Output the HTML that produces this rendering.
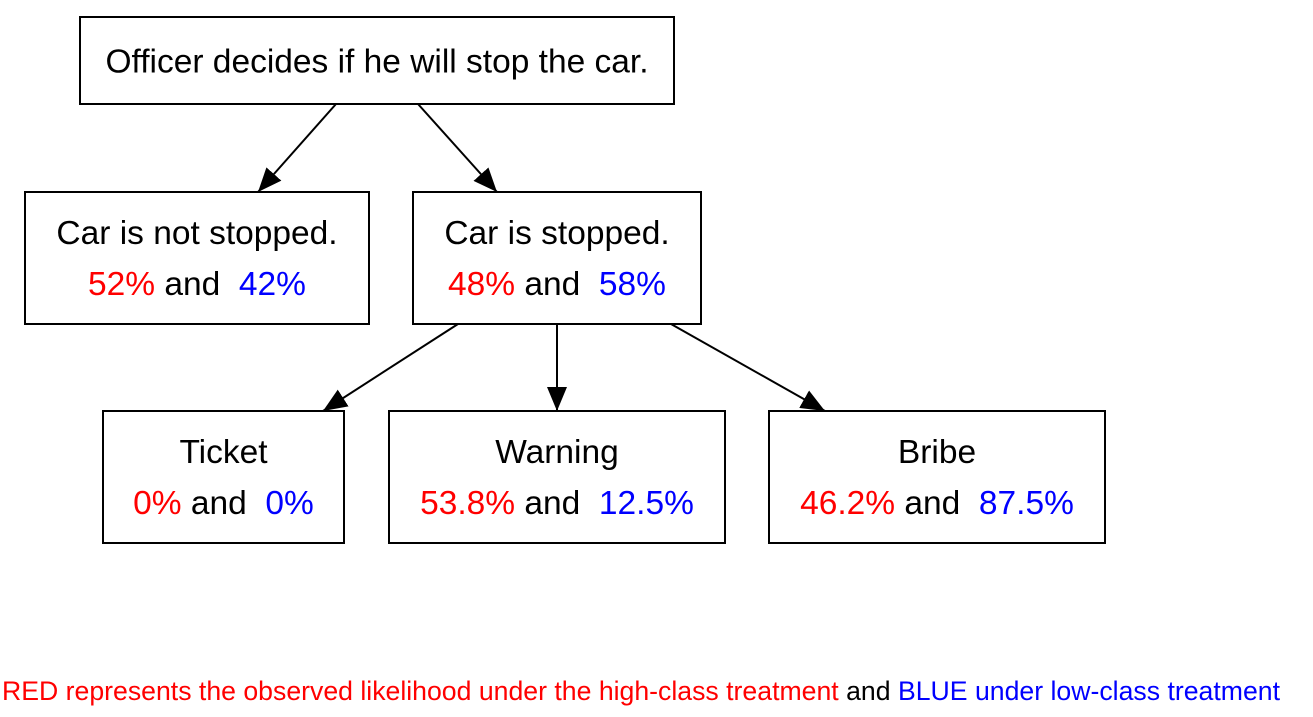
<!DOCTYPE html>
<html>
<head>
<meta charset="utf-8">
<style>
  html, body { margin: 0; padding: 0; background: #fff; }
  body { width: 1313px; height: 712px; overflow: hidden; }
  svg text { font-family: "Liberation Sans", Arial, sans-serif; }
</style>
</head>
<body>
<svg id="chart" width="1313" height="712" viewBox="0 0 1313 712" xmlns="http://www.w3.org/2000/svg">
  <defs>
    <marker id="arrow" markerWidth="24" markerHeight="20" refX="24" refY="10" orient="auto" markerUnits="userSpaceOnUse">
      <path d="M0,0 L24,10 L0,20 Z" fill="#000"/>
    </marker>
  </defs>
  <g id="edges"></g>
  <g id="nodes"></g>
  <text x="2" y="700" font-size="26.5" textLength="1278" lengthAdjust="spacingAndGlyphs"><tspan fill="#ff0000">RED represents the observed likelihood under the high-class treatment</tspan><tspan fill="#000"> and </tspan><tspan fill="#0000ff">BLUE under low-class treatment</tspan></text>
</svg>
<script>
const nodeNames = ["root", "not-stopped", "stopped", "ticket", "warning", "bribe"];
const nodeTitles = ["Officer decides if he will stop the car.", "Car is not stopped.", "Car is stopped.", "Ticket", "Warning", "Bribe"];
const redValues = [null, "52%", "48%", "0%", "53.8%", "46.2%"];
const blueValues = [null, "42%", "58%", "0%", "12.5%", "87.5%"];
const edgesFrom = ["root", "root", "stopped", "stopped", "stopped"];
const edgesTo = ["not-stopped", "stopped", "ticket", "warning", "bribe"];

const boxes = {
  "root": [80, 17, 594, 87],
  "not-stopped": [25, 192, 344, 132],
  "stopped": [413, 192, 288, 132],
  "ticket": [103, 411, 241, 132],
  "warning": [389, 411, 336, 132],
  "bribe": [769, 411, 336, 132]
};
const edgeGeom = {
  "root-not-stopped": [336, 104, 258, 192],
  "root-stopped": [418, 104, 497, 192],
  "stopped-ticket": [458, 324, 323, 411],
  "stopped-warning": [557, 324, 557, 411],
  "stopped-bribe": [671, 324, 825, 411]
};
const FS = 33.5;
const NS = "http://www.w3.org/2000/svg";
const eg = document.getElementById("edges");
const ng = document.getElementById("nodes");

edgesFrom.forEach((f, i) => {
  const t = edgesTo[i];
  const g = edgeGeom[f + "-" + t];
  const l = document.createElementNS(NS, "line");
  l.setAttribute("x1", g[0]); l.setAttribute("y1", g[1]);
  l.setAttribute("x2", g[2]); l.setAttribute("y2", g[3]);
  l.setAttribute("stroke", "#000"); l.setAttribute("stroke-width", "2");
  l.setAttribute("marker-end", "url(#arrow)");
  
  
  eg.appendChild(l);
});

nodeNames.forEach((n, i) => {
  const b = boxes[n];
  const g = document.createElementNS(NS, "g");
  
  
  const r = document.createElementNS(NS, "rect");
  r.setAttribute("x", b[0]); r.setAttribute("y", b[1]);
  r.setAttribute("width", b[2]); r.setAttribute("height", b[3]);
  r.setAttribute("fill", "#fff"); r.setAttribute("stroke", "#000"); r.setAttribute("stroke-width", "2");
  
  
  g.appendChild(r);
  const cx = b[0] + b[2] / 2;
  const title = document.createElementNS(NS, "text");
  title.setAttribute("x", cx);
  title.setAttribute("text-anchor", "middle");
  title.setAttribute("font-size", FS);
  title.setAttribute("y", redValues[i] === null ? b[1] + b[3] / 2 + 12 : b[1] + 52);
  title.textContent = nodeTitles[i];
  
  
  g.appendChild(title);
  if (redValues[i] !== null) {
    const v = document.createElementNS(NS, "text");
    v.setAttribute("x", cx);
    v.setAttribute("y", b[1] + 103);
    v.setAttribute("text-anchor", "middle");
    v.setAttribute("font-size", FS);
    
    
    const t1 = document.createElementNS(NS, "tspan");
    t1.setAttribute("fill", "#ff0000"); t1.textContent = redValues[i];
    const t2 = document.createElementNS(NS, "tspan");
    t2.setAttribute("fill", "#000"); t2.textContent = " and  ";
    const t3 = document.createElementNS(NS, "tspan");
    t3.setAttribute("fill", "#0000ff"); t3.textContent = blueValues[i];
    v.setAttribute("style", "white-space:pre");
    v.appendChild(t1); v.appendChild(t2); v.appendChild(t3);
    g.appendChild(v);
  }
  ng.appendChild(g);
});
</script>
</body>
</html>
